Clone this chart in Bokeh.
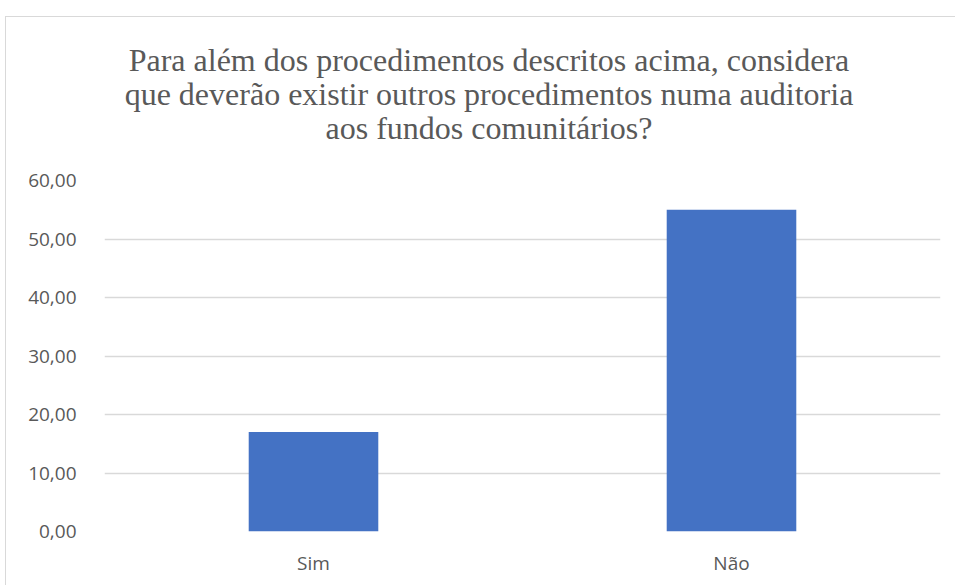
from bokeh.plotting import figure
from bokeh.models import FactorRange, Range1d, FixedTicker, Div
from bokeh.layouts import column
from bokeh.embed import file_html
from bokeh.resources import INLINE

categories = ["Sim", "Não"]
values = [17.0, 55.0]
y_ticks = [0, 10, 20, 30, 40, 50, 60]
y_tick_labels = ["0,00", "10,00", "20,00", "30,00", "40,00", "50,00", "60,00"]
title_lines = ["Para além dos procedimentos descritos acima, considera",
               "que deverão existir outros procedimentos numa auditoria",
               "aos fundos comunitários?"]

W = 948
title = Div(text="<br>".join(title_lines), width=W, height=140,
            styles={"font-family": "'Liberation Serif', serif", "font-size": "32px",
                    "color": "#595959", "text-align": "center", "line-height": "34px",
                    "padding-top": "21px", "padding-left": "8px",
                    "box-sizing": "border-box", "width": f"{W}px"})

p = figure(x_range=FactorRange(*categories, range_padding=0),
           y_range=Range1d(0, 60),
           width=W, height=418,
           output_backend="svg", toolbar_location=None,
           min_border_left=98, min_border_right=14,
           min_border_top=13, min_border_bottom=54)

p.vbar(x=categories, top=values, width=0.31, color="#4472C4", line_color=None)

p.outline_line_color = None
p.background_fill_color = "white"
p.border_fill_color = "white"

p.yaxis.ticker = FixedTicker(ticks=y_ticks)
p.yaxis.major_label_overrides = {t_: l for t_, l in zip(y_ticks, y_tick_labels)}
for ax in (p.xaxis[0], p.yaxis[0]):
    ax.axis_line_color = None
    ax.major_tick_line_color = None
    ax.minor_tick_line_color = None
    ax.major_label_text_font = "Open Sans"
    ax.major_label_text_font_size = "19px"
    ax.major_label_text_color = "#595959"
p.yaxis.major_label_standoff = 22
p.xaxis.major_label_standoff = 12

p.xgrid.grid_line_color = None
p.ygrid.grid_line_color = "#d9d9d9"
p.ygrid.grid_line_width = 1.5

layout = column(title, p, spacing=0,
                styles={"border": "1px solid #d9d9d9", "margin-top": "16px",
                        "margin-left": "5px", "background": "white"})

open("out.html", "w").write(file_html(layout, INLINE))
